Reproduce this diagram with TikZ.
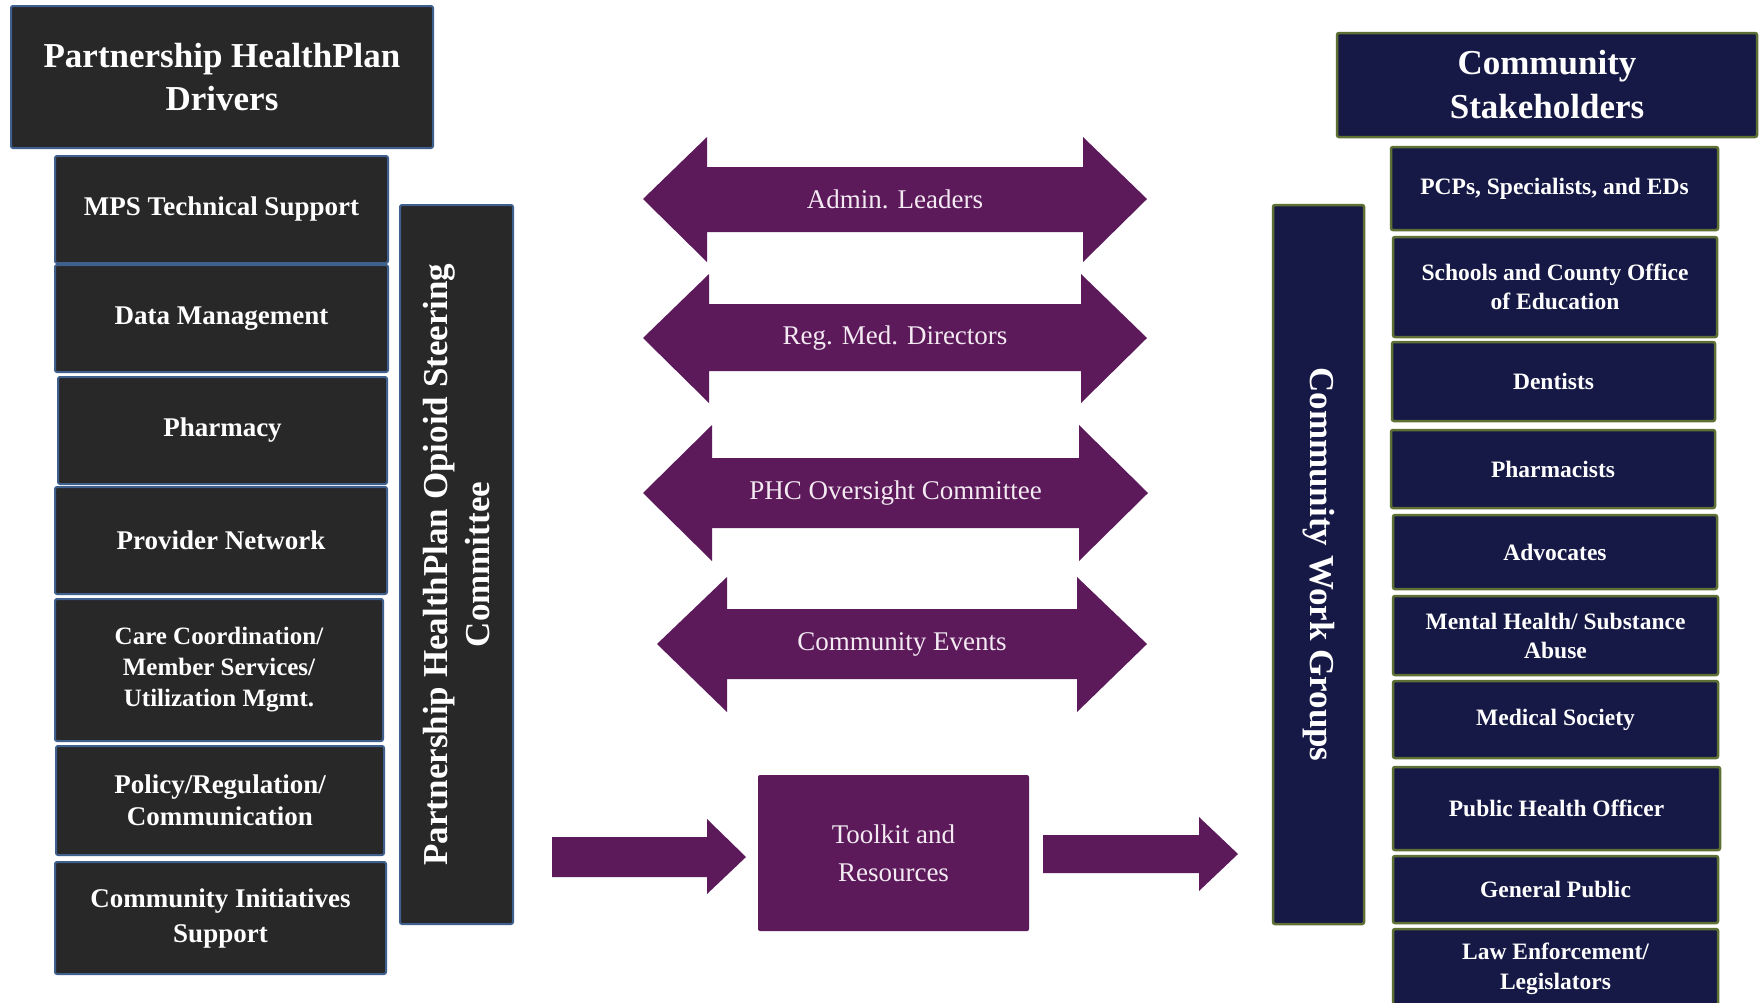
\documentclass[tikz,border=0pt]{standalone}
\usepackage{fontspec}
\setmainfont{Liberation Serif}
\definecolor{darkfill}{HTML}{282828}
\definecolor{darkedge}{HTML}{3F5F8C}
\definecolor{navyfill}{HTML}{161946}
\definecolor{navyedge}{HTML}{5E7034}
\definecolor{plum}{HTML}{5C1A5B}
\definecolor{plumtext}{HTML}{F3EAF2}
\begin{document}
\begin{tikzpicture}[x=1pt,y=-1pt,
  dbox/.style={draw=darkedge, line width=2pt, fill=darkfill, rounded corners=2pt, text=white, align=center, inner sep=0pt},
  nbox/.style={draw=navyedge, line width=2.5pt, fill=navyfill, rounded corners=2pt, text=white, align=center, inner sep=0pt},
  big/.style={font=\bfseries\fontsize{35}{43}\selectfont},
  lbl/.style={font=\bfseries\fontsize{27}{34}\selectfont},
  lbls/.style={font=\bfseries\fontsize{25}{31}\selectfont},
  rbl/.style={font=\bfseries\fontsize{23.5}{29}\selectfont},
  arrowtext/.style={text=plumtext, font=\fontsize{27}{38}\selectfont, align=center, inner sep=0pt},
  plumshape/.style={fill=plum}
]
\clip (0,0) rectangle (1760,1002);
\fill[white] (0,0) rectangle (1760,1002);

% ---------- left column ----------
\node[dbox, big, minimum width=422pt, minimum height=142pt] (ltitle) at (222,77) {Partnership HealthPlan\\Drivers};
\node[dbox, lbl, minimum width=333pt, minimum height=107pt] (mps) at (221.5,209.5) {MPS Technical Support};
\node[dbox, lbl, minimum width=333pt, minimum height=107pt] (dm) at (221.5,318.5) {Data Management};
\node[dbox, lbl, minimum width=329pt, minimum height=107pt] (pharm) at (222.5,430.5) {Pharmacy};
\node[dbox, lbl, minimum width=332pt, minimum height=107pt] (prov) at (221,540.5) {Provider Network};
\node[dbox, lbls, minimum width=328pt, minimum height=142pt] (care) at (219,670) {Care Coordination/\\Member Services/\\Utilization Mgmt.};
\node[dbox, lbl, font=\bfseries\fontsize{27}{31.5}\selectfont, minimum width=328pt, minimum height=109pt] (policy) at (220,800.5) {Policy/Regulation/\\Communication};
\node[dbox, lbl, font=\bfseries\fontsize{27}{35}\selectfont, minimum width=331pt, minimum height=112pt] (ci) at (220.5,918) {Community Initiatives\\Support};
\node[dbox, big, font=\bfseries\fontsize{35}{42}\selectfont, rotate=90, minimum width=719pt, minimum height=113pt] (steer) at (456.5,564.5) {Partnership HealthPlan Opioid Steering\\Committee};

% ---------- right column ----------
\node[nbox, big, font=\bfseries\fontsize{35}{44}\selectfont, minimum width=420pt, minimum height=104pt] (rtitle) at (1547,85) {Community\\Stakeholders};
\node[nbox, rbl, minimum width=327pt, minimum height=83pt] (pcp) at (1554.5,188.5) {PCPs, Specialists, and EDs};
\node[nbox, rbl, minimum width=324pt, minimum height=100pt] (schools) at (1555,287) {Schools and County Office\\of Education};
\node[nbox, rbl, minimum width=323pt, minimum height=79pt] (dent) at (1553.5,381.5) {Dentists};
\node[nbox, rbl, minimum width=324pt, minimum height=78pt] (pharmacists) at (1553,469) {Pharmacists};
\node[nbox, rbl, minimum width=324pt, minimum height=74pt] (adv) at (1555,552) {Advocates};
\node[nbox, rbl, minimum width=325pt, minimum height=79pt] (mental) at (1555.5,635.5) {Mental Health/ Substance\\Abuse};
\node[nbox, rbl, minimum width=325pt, minimum height=77pt] (medsoc) at (1555.5,719.5) {Medical Society};
\node[nbox, rbl, minimum width=327pt, minimum height=83pt] (pho) at (1556.5,808.5) {Public Health Officer};
\node[nbox, rbl, minimum width=325pt, minimum height=67pt] (genpub) at (1555.5,889.5) {General Public};
\node[nbox, rbl, font=\bfseries\fontsize{23.5}{30}\selectfont, minimum width=325pt, minimum height=80pt] (law) at (1555.5,969) {Law Enforcement/\\Legislators};
\node[nbox, big, rotate=-90, minimum width=719pt, minimum height=91pt] (cwg) at (1318.5,564.5) {Community Work Groups};

% ---------- double arrows ----------
\fill[plumshape] (643,199) -- (707,137) -- (707,167) -- (1083,167) -- (1083,137) -- (1147,199) -- (1083,262) -- (1083,232) -- (707,232) -- (707,262) -- cycle;
\node[arrowtext] (admin) at (895,199.5) {Admin. Leaders};

\fill[plumshape] (643,338) -- (709,274) -- (709,304) -- (1081,304) -- (1081,274) -- (1147,338) -- (1081,403) -- (1081,371) -- (709,371) -- (709,403) -- cycle;
\node[arrowtext] (regmed) at (895,338) {Reg. Med. Directors};

\fill[plumshape] (643,493) -- (712,425) -- (712,458) -- (1079,458) -- (1079,425) -- (1148,493) -- (1079,561) -- (1079,528) -- (712,528) -- (712,561) -- cycle;
\node[arrowtext] (phc) at (895.5,493) {PHC Oversight Committee};

\fill[plumshape] (657,644) -- (727,577) -- (727,609) -- (1077,609) -- (1077,577) -- (1147,644) -- (1077,712) -- (1077,679) -- (727,679) -- (727,712) -- cycle;
\node[arrowtext] (events) at (902,644) {Community Events};

% ---------- toolkit ----------
\node[plumshape, rounded corners=2pt, minimum width=271pt, minimum height=156pt, inner sep=0pt] (toolkit) at (893.5,853) {};
\node[arrowtext] (toolkittext) at (toolkit.center) {Toolkit and\\Resources};

\fill[plumshape] (552,837) -- (707,837) -- (707,819) -- (746,857) -- (707,894) -- (707,877) -- (552,877) -- cycle;
\fill[plumshape] (1043,835) -- (1199,835) -- (1199,817) -- (1238,854) -- (1199,891) -- (1199,873) -- (1043,873) -- cycle;
\end{tikzpicture}
\end{document}
